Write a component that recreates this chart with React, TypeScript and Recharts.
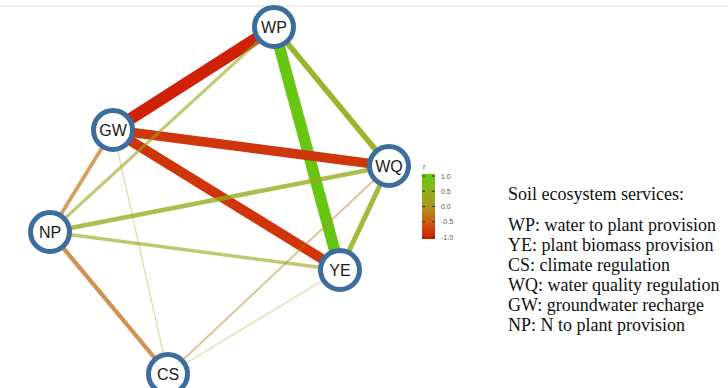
import React from 'react';
import { ScatterChart, Scatter, XAxis, YAxis } from 'recharts';

// node layout positions (layout units, y grows downward)
const nodeIds = ['WP', 'GW', 'WQ', 'NP', 'YE', 'CS'];
const nodeX = [2.74, 1.13, 3.89, 0.5, 3.4, 1.68];
const nodeY = [0.27, 1.3, 1.66, 2.32, 2.7, 3.74];

// correlation edges: from, to, r
const edgeFrom = ['WP', 'WP', 'GW', 'GW', 'WP', 'WQ', 'WQ', 'NP', 'GW', 'NP', 'WP', 'WQ', 'GW', 'YE'];
const edgeTo = ['GW', 'YE', 'WQ', 'YE', 'WQ', 'YE', 'NP', 'CS', 'NP', 'YE', 'NP', 'CS', 'CS', 'CS'];
const edgeR = [-0.96, 0.92, -0.78, -0.8, 0.45, 0.4, 0.36, -0.34, -0.3, 0.27, 0.25, -0.16, 0.1, 0.1];

const colorTicks = ['1.0', '0.5', '0.0', '-0.5', '-1.0'];

const serviceLines = [
  'WP: water to plant provision',
  'YE: plant biomass provision',
  'CS: climate regulation',
  'WQ: water quality regulation',
  'GW: groundwater recharge',
  'NP: N to plant provision',
];

const STOPS: Array<[number, [number, number, number]]> = [
  [-1, [206, 28, 6]],
  [-0.5, [208, 88, 18]],
  [0, [168, 150, 28]],
  [0.5, [141, 179, 26]],
  [1, [96, 202, 16]],
];

function rColor(r: number) {
  for (let i = 0; i < STOPS.length - 1; i++) {
    const [a, ca] = STOPS[i];
    const [b, cb] = STOPS[i + 1];
    if (r >= a && r <= b) {
      const t = (r - a) / (b - a);
      const c = ca.map((v, k) => Math.round(v + (cb[k] - v) * t));
      return `rgb(${c[0]},${c[1]},${c[2]})`;
    }
  }
  return 'rgb(168,150,28)';
}

const nodes = nodeIds.map((id, i) => ({ id, x: nodeX[i], y: nodeY[i] }));
const nodeById = (id: string) => nodes[nodeIds.indexOf(id)];

const edges = edgeFrom.map((f, i) => ({
  key: `${f}-${edgeTo[i]}`,
  r: edgeR[i],
  points: [nodeById(f), nodeById(edgeTo[i])],
}));

const NodeShape = (props: any) => {
  const { cx, cy, payload } = props;
  return (
    <g>
      <circle cx={cx} cy={cy} r={19.5} fill="#fff" stroke="#3d6d9c" strokeWidth={5} />
      <text
        x={cx}
        y={cy + 6}
        textAnchor="middle"
        fontFamily="Liberation Sans, Arial, sans-serif"
        fontSize={16}
        fill="#1a1a1a"
      >
        {payload.id}
      </text>
    </g>
  );
};

const ColorBar = () => (
  <svg width={60} height={90} style={{ position: 'absolute', left: 412, top: 160 }}>
    <defs>
      <linearGradient id="rgrad" x1="0" y1="0" x2="0" y2="1">
        {STOPS.slice().reverse().map(([v]) => (
          <stop key={v} offset={`${((1 - v) / 2) * 100}%`} stopColor={rColor(v)} />
        ))}
      </linearGradient>
    </defs>
    <text x={11} y={9} fontSize={7} fontFamily="Liberation Sans, Arial" fill="#444">r</text>
    <rect x={10} y={14} width={13} height={65} fill="url(#rgrad)" />
    {colorTicks.map((t, i) => {
      const y = 14 + 2 + i * 15.25;
      return (
        <g key={t}>
          <line x1={10} x2={13} y1={y} y2={y} stroke="#333" strokeWidth={1} />
          <line x1={20} x2={23} y1={y} y2={y} stroke="#333" strokeWidth={1} />
          <text x={29} y={y + 2.5} fontSize={7} fontFamily="Liberation Sans, Arial" fill="#555">
            {t}
          </text>
        </g>
      );
    })}
  </svg>
);

export default function App() {
  return (
    <div style={{ position: 'absolute', left: 0, top: 0, width: 728, height: 388, background: '#fff' }}>
      <div style={{ position: 'absolute', left: 0, top: 5, width: 728, height: 2, background: '#efefef' }} />
      <ScatterChart width={728} height={388} margin={{ top: 0, right: 0, bottom: 0, left: 0 }}>
        <XAxis type="number" dataKey="x" domain={[0, 7.28]} hide />
        <YAxis type="number" dataKey="y" domain={[0, 3.88]} reversed hide />
        {edges.map((e) => (
          <Scatter
            key={e.key}
            data={e.points}
            line={{
              stroke: rColor(e.r),
              strokeWidth: Math.abs(e.r) * 12.5,
              strokeOpacity: Math.min(1, 0.2 + 1.6 * Math.abs(e.r)),
            }}
            shape={() => <g />}
            isAnimationActive={false}
          />
        ))}
        <Scatter data={nodes} shape={NodeShape} isAnimationActive={false} />
      </ScatterChart>
      <ColorBar />
      <div
        style={{
          position: 'absolute',
          left: 508,
          top: 184,
          fontFamily: 'Liberation Serif, Times New Roman, serif',
          fontSize: 18,
          color: '#111',
          lineHeight: '20px',
          whiteSpace: 'nowrap',
        }}
      >
        <div style={{ marginBottom: 11 }}>Soil ecosystem services:</div>
        {serviceLines.map((s) => (
          <div key={s}>{s}</div>
        ))}
      </div>
    </div>
  );
}
